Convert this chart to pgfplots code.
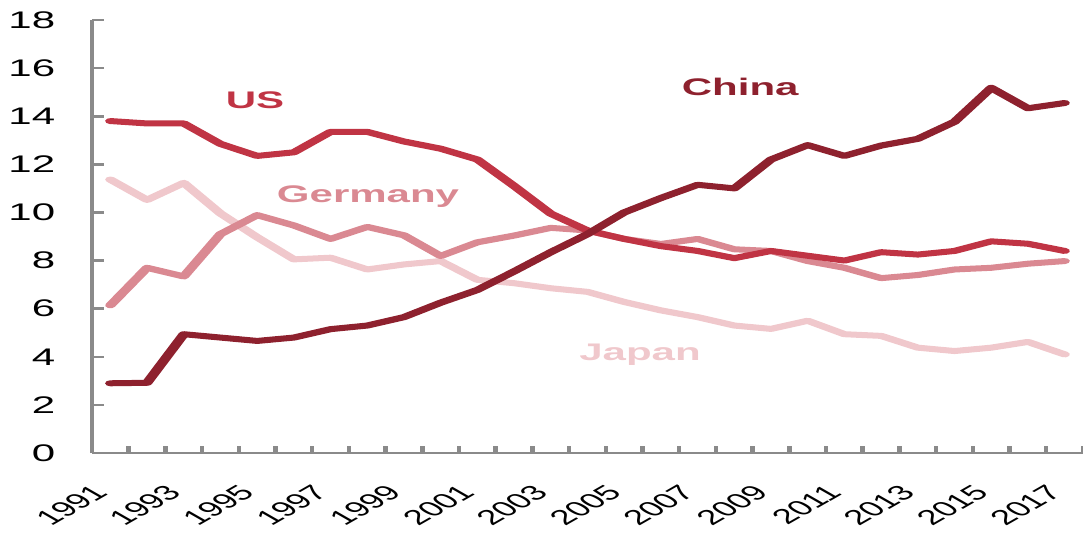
\documentclass[border=0pt]{standalone}
\usepackage{pgfplots}
\pgfplotsset{compat=1.18}
\usepackage{fontspec}
\setmainfont{Liberation Sans}
\definecolor{usc}{RGB}{192,52,68}
\definecolor{chc}{RGB}{142,33,46}
\definecolor{dec}{RGB}{218,137,146}
\definecolor{jpc}{RGB}{240,200,204}
\definecolor{axgray}{RGB}{138,138,138}
\begin{document}
\scalebox{1.75}[1]{%
\begin{tikzpicture}
\path[use as bounding box] (-26.29pt,-40pt) rectangle (283.1pt,226.5pt);
\begin{axis}[
  at={(0,0)}, anchor=south west,
  scale only axis, width=283.1pt, height=216.5pt,
  xmin=1990.5, xmax=2017.5, ymin=0, ymax=18,
  axis x line=bottom, axis y line=left,
  axis line style={-, draw=axgray, line width=1.3pt},
  tick align=inside,
  xtick={1991,1993,...,2017},
  minor xtick={1990.5,1991.5,...,2017.5},
  ytick={0,2,...,18}, minor ytick={0,2,...,18},
  major tick length=0pt, minor tick length=3.3pt,
  tick style={draw=axgray, line width=1.3pt},
  /pgf/number format/assume math mode=true,
  /pgf/number format/1000 sep={},
  xticklabel shift=20.5pt,
  xticklabel style={rotate=45, anchor=south east, inner sep=0pt, font=\fontsize{10.5}{10.5}\selectfont},
  yticklabel style={xshift=-7pt, font=\fontsize{12}{12}\selectfont},
  clip=false,
  every axis plot/.append style={line width=3pt, line join=round, line cap=round, mark=none},
]
\addplot[jpc] coordinates {(1991,11.37)(1992,10.52)(1993,11.23)(1994,9.96)(1995,8.97)(1996,8.05)(1997,8.12)(1998,7.63)(1999,7.84)(2000,7.98)(2001,7.2)(2002,7.06)(2003,6.85)(2004,6.7)(2005,6.28)(2006,5.93)(2007,5.65)(2008,5.3)(2009,5.16)(2010,5.5)(2011,4.94)(2012,4.87)(2013,4.38)(2014,4.24)(2015,4.38)(2016,4.62)(2017,4.1)};
\addplot[dec] coordinates {(1991,6.14)(1992,7.7)(1993,7.34)(1994,9.1)(1995,9.89)(1996,9.46)(1997,8.9)(1998,9.4)(1999,9.05)(2000,8.19)(2001,8.76)(2002,9.04)(2003,9.36)(2004,9.25)(2005,8.9)(2006,8.69)(2007,8.9)(2008,8.47)(2009,8.4)(2010,7.98)(2011,7.7)(2012,7.27)(2013,7.4)(2014,7.63)(2015,7.7)(2016,7.87)(2017,7.98)};
\addplot[usc] coordinates {(1991,13.8)(1992,13.7)(1993,13.7)(1994,12.85)(1995,12.35)(1996,12.5)(1997,13.35)(1998,13.35)(1999,12.95)(2000,12.65)(2001,12.2)(2002,11.1)(2003,9.95)(2004,9.25)(2005,8.9)(2006,8.6)(2007,8.4)(2008,8.1)(2009,8.4)(2010,8.2)(2011,8.0)(2012,8.35)(2013,8.25)(2014,8.4)(2015,8.8)(2016,8.7)(2017,8.4)};
\addplot[chc] coordinates {(1991,2.9)(1992,2.92)(1993,4.94)(1994,4.8)(1995,4.66)(1996,4.8)(1997,5.15)(1998,5.3)(1999,5.65)(2000,6.25)(2001,6.78)(2002,7.55)(2003,8.35)(2004,9.1)(2005,10.0)(2006,10.6)(2007,11.15)(2008,11.0)(2009,12.2)(2010,12.8)(2011,12.35)(2012,12.78)(2013,13.06)(2014,13.77)(2015,15.18)(2016,14.33)(2017,14.55)};
\node[font=\bfseries\fontsize{12}{12}\selectfont, text=usc] at (axis cs:1994.94,14.67) {US};
\node[font=\bfseries\fontsize{12}{12}\selectfont, text=chc] at (axis cs:2008.16,15.2) {China};
\node[font=\bfseries\fontsize{12}{12}\selectfont, text=dec] at (axis cs:1998.02,10.64) {Germany};
\node[font=\bfseries\fontsize{12}{12}\selectfont, text=jpc] at (axis cs:2005.43,4.1) {Japan};
\end{axis}
\end{tikzpicture}}
\end{document}
